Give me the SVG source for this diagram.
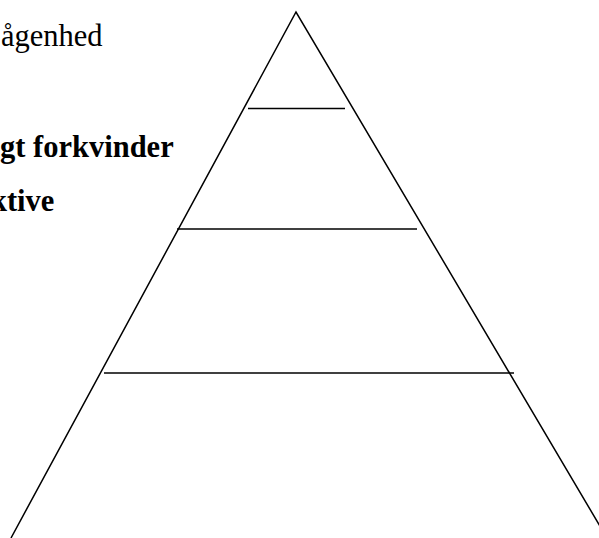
<svg xmlns="http://www.w3.org/2000/svg" width="599" height="538" viewBox="0 0 599 538">
<style>
.t{font-family:"Liberation Serif","Times New Roman",serif;font-size:30.5px;fill:#000}
.b{font-weight:bold}
.l{stroke:#000;stroke-width:1.5;fill:none}
</style>
<rect width="599" height="538" fill="#fff"/>
<g id="labels">
<text class="t" x="1" y="46">ågenhed</text>
<text class="t b" x="0" y="157">gt forkvinder</text>
<text class="t b" x="-10" y="211">ktive</text>
</g>
<g id="pyramid">
<polyline class="l" points="11,538 296,12 607,538"/>
<line class="l" x1="248" y1="108.5" x2="345" y2="108.5"/>
<line class="l" x1="177" y1="229" x2="417" y2="229"/>
<line class="l" x1="104" y1="373" x2="514" y2="373"/>
</g>
</svg>
